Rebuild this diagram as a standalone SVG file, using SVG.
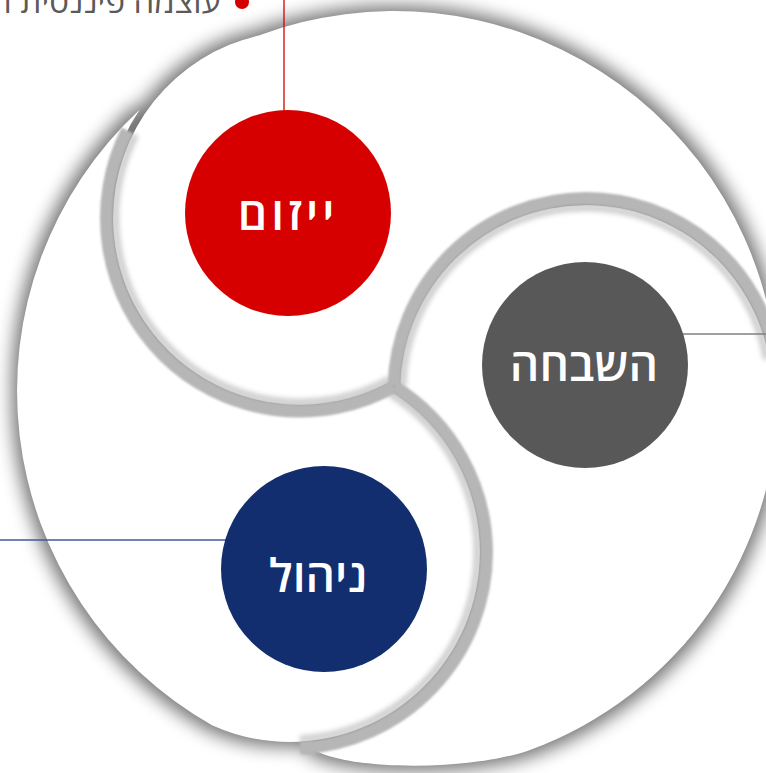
<svg xmlns="http://www.w3.org/2000/svg" width="766" height="773" viewBox="0 0 766 773">
  <defs>
    <filter id="sh" filterUnits="userSpaceOnUse" x="-80" y="-80" width="950" height="950">
      <feMorphology in="SourceAlpha" operator="dilate" radius="5"/>
      <feGaussianBlur stdDeviation="9"/>
      <feComponentTransfer><feFuncA type="linear" slope="0.55"/></feComponentTransfer>
    </filter>
    <filter id="soft" filterUnits="userSpaceOnUse" x="-80" y="-80" width="950" height="950">
      <feGaussianBlur stdDeviation="0.9"/>
    </filter>
    <filter id="fringe" filterUnits="userSpaceOnUse" x="-80" y="-80" width="950" height="950">
      <feGaussianBlur stdDeviation="2.5"/>
    </filter>
    <path id="pG" d="M 400,389.1 A 186 186 0 0 1 586,205 A 186 186 0 0 1 772,391 L 778,391 A 378 378 0 0 1 529.3,750.2 C 473,770.6 345,772 310.5,747.4 A 196.5 196.5 0 0 0 486.5,552 A 196.5 196.5 0 0 0 400,389.1 Z"/>
    <path id="pB" d="M 388.9,389.8 A 190 190 0 0 1 480,552 A 190 190 0 0 1 290,742 A 190 190 0 0 1 212,725.2 A 384 384 0 0 1 139.8,109.5 A 193.5 193.5 0 0 0 163.2,354.8 A 193.5 193.5 0 0 0 388.9,389.8 Z"/>
    <path id="pT" d="M 258.8,35.6 A 384 384 0 0 1 777,366.7 A 192.5 192.5 0 0 0 586,198.5 A 192.5 192.5 0 0 0 393.8,379.8 A 187 187 0 0 1 113,218 A 187 187 0 0 1 258.8,35.6 Z"/>
    <style>
      .lobe { fill: #ffffff; }
      .rim { fill: none; stroke: #b6b6b6; stroke-width: 13; filter: url(#soft); }
      .fr { fill: none; stroke: #bdbdbd; stroke-width: 6; opacity: 0.8; filter: url(#fringe); }
      .lbl { font-family: "Open Sans", "DejaVu Sans", sans-serif; font-size: 46px; font-weight: 600; fill: #ffffff; text-anchor: middle; }
      .conn { fill: none; stroke-width: 1.3; }
    </style>
  </defs>
  <rect width="766" height="773" fill="#ffffff"/>

  <g id="swirl">
    <g id="shadow" filter="url(#sh)">
      <use href="#pG"/>
      <use href="#pB"/>
      <use href="#pT"/>
    </g>
    <use id="lobe-gray" class="lobe" href="#pG"/>
    <use id="lobe-blue" class="lobe" href="#pB"/>
    <use id="lobe-red" class="lobe" href="#pT"/>
    <path class="fr" d="M 389.8,378.6 A 184 184 0 0 1 169.9,348.1 A 184 184 0 0 1 135.9,134.8"/>
    <path class="fr" d="M 403,386.9 A 183 183 0 0 1 586,208 A 183 183 0 0 1 766.2,359.2"/>
    <path class="fr" d="M 389.3,393.6 A 187 187 0 0 1 477,552 A 187 187 0 0 1 299.8,738.7"/>
    <path class="rim" d="M 394,386.5 A 193.5 193.5 0 0 1 163.2,354.8 A 193.5 193.5 0 0 1 127.4,130.5"/>
    <path class="rim" d="M 394,386.5 A 192.5 192.5 0 0 1 586,198.5 A 192.5 192.5 0 0 1 775.6,357.6"/>
    <path class="rim" d="M 394,386.5 A 196.5 196.5 0 0 1 486.5,552 A 196.5 196.5 0 0 1 300.3,748.2"/>
  </g>

  <g id="connectors">
    <line class="conn" x1="284" y1="0" x2="284" y2="111" stroke="#d40000"/>
    <line class="conn" x1="683" y1="334" x2="766" y2="334" stroke="#808080"/>
    <line class="conn" x1="0" y1="540" x2="226" y2="540" stroke="#3d5a99"/>
  </g>

  <g id="note">
    <circle cx="242" cy="2" r="7" fill="#d40000"/>
    <text x="221" y="13" font-family="Open Sans, DejaVu Sans, sans-serif" font-size="33" fill="#5a5a5a" text-anchor="end">עוצמה פיננסית ו</text>
  </g>

  <g id="node-yizum">
    <circle cx="288" cy="213" r="103" fill="#d70000"/>
    <text class="lbl" x="288" y="230" letter-spacing="4">ייזום</text>
  </g>
  <g id="node-hashbaha">
    <circle cx="585" cy="365" r="103" fill="#575857"/>
    <text class="lbl" x="584" y="381">השבחה</text>
  </g>
  <g id="node-nihul">
    <circle cx="324" cy="569" r="103" fill="#122e6f"/>
    <text class="lbl" x="318" y="592">ניהול</text>
  </g>
</svg>
